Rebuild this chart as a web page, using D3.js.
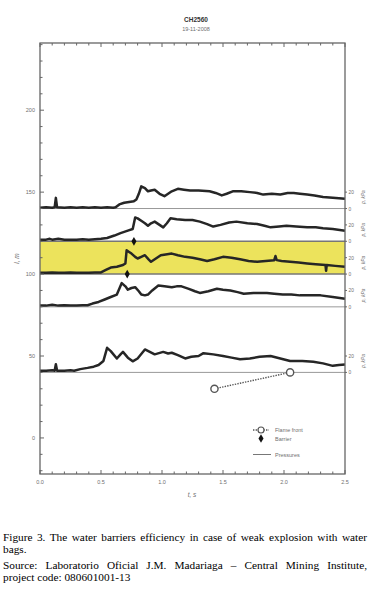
<!DOCTYPE html>
<html>
<head>
<meta charset="utf-8">
<script src="https://cdn.jsdelivr.net/npm/d3@7"></script>
<style>
  body { margin: 0; background: #fff; }
  svg { display: block; }
</style>
</head>
<body>
<div id="chart"></div>
<script>
// pressure traces: [t (s), p (kPa)], drawn on top of their baseline (l, m)
const baselines = [140, 120, 100, 80, 40];
const trace140 = [[0,1],[0.05,1.5],[0.1,1],[0.12,1.5],[0.13,13],[0.14,1.5],[0.2,1],[0.25,1.5],[0.3,1],[0.35,1.5],[0.4,1],[0.45,1.5],[0.5,1],[0.55,1.5],[0.6,1],[0.62,1.5],[0.65,5],[0.69,7],[0.73,8],[0.77,9],[0.79,11],[0.81,18],[0.83,27],[0.86,25],[0.885,21],[0.91,22],[0.94,23],[0.98,18],[1.02,15],[1.05,18],[1.08,21],[1.13,24],[1.18,23],[1.23,22],[1.3,22],[1.39,21],[1.44,19],[1.49,16],[1.53,18],[1.58,21],[1.65,21],[1.72,20],[1.78,19],[1.83,17],[1.9,18],[1.97,17],[2.03,19],[2.08,19],[2.13,18],[2.19,17],[2.25,16],[2.32,14],[2.4,13],[2.5,12]];
const trace120 = [[0,2],[0.05,2],[0.08,3],[0.1,2],[0.15,3],[0.2,2],[0.25,2],[0.3,2],[0.35,2.5],[0.4,2],[0.45,2.5],[0.5,3],[0.55,4],[0.61,7],[0.66,10],[0.72,13],[0.76,15],[0.78,29],[0.8,28],[0.83,25],[0.86,22],[0.885,19],[0.91,22],[0.94,24],[0.98,20],[1.01,17],[1.04,22],[1.07,28],[1.12,27],[1.19,26],[1.25,26],[1.31,24],[1.37,21],[1.42,18],[1.48,20],[1.55,23],[1.61,24],[1.7,22],[1.78,21],[1.84,19],[1.89,17],[1.96,18],[2.02,19],[2.1,18],[2.19,17],[2.26,17],[2.32,16],[2.4,15],[2.5,13]];
const trace100 = [[0,1.5],[0.05,1.5],[0.1,2],[0.15,1.5],[0.2,1.5],[0.25,2],[0.3,1.5],[0.35,1.5],[0.4,1.5],[0.45,2],[0.5,2],[0.54,5],[0.58,8],[0.63,9],[0.68,11],[0.7,13],[0.71,29],[0.73,27],[0.75,25],[0.78,21],[0.8,19],[0.83,21],[0.86,23],[0.89,18],[0.91,15],[0.95,19],[0.99,23],[1.03,24],[1.08,25],[1.13,23],[1.19,21],[1.25,20],[1.31,18],[1.37,16],[1.43,18],[1.5,21],[1.57,20],[1.64,18],[1.71,16],[1.78,15],[1.85,16],[1.92,17],[1.93,22],[1.94,17],[1.98,16],[2.05,15],[2.12,14],[2.19,13],[2.26,12],[2.34,11],[2.345,4],[2.35,11],[2.42,10],[2.5,9]];
const trace80 = [[0,1.5],[0.05,1.5],[0.1,2.5],[0.15,1.5],[0.2,2],[0.25,1.5],[0.3,1.5],[0.35,2],[0.39,2],[0.43,4],[0.48,6],[0.53,9],[0.58,12],[0.63,15],[0.65,22],[0.67,29],[0.7,25],[0.72,21],[0.75,23],[0.78,24],[0.81,19],[0.83,15],[0.86,14],[0.885,15],[0.92,20],[0.97,26],[1.02,25],[1.08,24],[1.12,25],[1.16,25],[1.22,22],[1.27,19],[1.31,17],[1.38,19],[1.45,22],[1.5,21],[1.56,20],[1.62,18],[1.67,16],[1.75,17],[1.86,17],[1.92,16],[1.99,15],[2.06,15],[2.13,14],[2.2,14],[2.3,14],[2.4,12],[2.5,10]];
const trace40 = [[0,2],[0.05,2],[0.1,2.5],[0.12,2],[0.13,10],[0.14,2],[0.2,2],[0.25,2.5],[0.28,2],[0.33,4],[0.39,5.5],[0.44,7],[0.48,9],[0.52,14],[0.55,30],[0.58,26],[0.63,17],[0.66,22],[0.68,25],[0.72,18],[0.76,13.5],[0.8,17],[0.86,28],[0.9,25],[0.94,22],[1.01,25],[1.05,23],[1.08,24],[1.13,21],[1.19,17],[1.24,19],[1.3,20],[1.34,23.5],[1.42,22],[1.5,20],[1.57,18],[1.64,16],[1.72,17],[1.8,19],[1.89,20],[1.97,17],[2.05,14],[2.15,14],[2.24,13],[2.32,11],[2.4,8],[2.45,9],[2.5,9.5]];
const traces = [trace140, trace120, trace100, trace80, trace40];

const flameT = [1.43, 2.05];
const flameL = [30, 40];
const barrierT = [0.77, 0.715];
const barrierL = [120, 100];
const band = [100, 120];

const xTicks = [0, 0.5, 1.0, 1.5, 2.0, 2.5];
const yTicks = [0, 50, 100, 150, 200];
const kPaPerMetre = 2; // 20 kPa spans 10 m on the plot

const width = 381, height = 590;
const margin = { left: 40, right: 36, top: 43, bottom: 116 };
const axisGrey = "#666", textGrey = "#6f6f6f";

const svg = d3.select("#chart").append("svg")
  .attr("width", width)
  .attr("height", height)
  .style("font-family", "'Liberation Sans', Arial, sans-serif");

const x = d3.scaleLinear().domain([0, 2.5]).range([margin.left, width - margin.right]);
const y = d3.scaleLinear().domain([-22, 241]).range([height - margin.bottom, margin.top]);

// title
svg.append("text").attr("x", 196).attr("y", 22).attr("text-anchor", "middle")
  .attr("font-size", 6.5).attr("font-weight", "bold").attr("fill", "#333").text("CH2560");
svg.append("text").attr("x", 196).attr("y", 31).attr("text-anchor", "middle")
  .attr("font-size", 5.5).attr("fill", textGrey).text("19-11-2008");

// yellow band between the two barrier gauges
svg.append("rect")
  .attr("x", x(0)).attr("y", y(band[1]))
  .attr("width", x(2.5) - x(0)).attr("height", y(band[0]) - y(band[1]))
  .attr("fill", "#ece35c");

// baselines of the pressure gauges
svg.selectAll(".baseline").data(baselines).join("line")
  .attr("class", "baseline")
  .attr("x1", x(0)).attr("x2", x(2.5))
  .attr("y1", d => y(d)).attr("y2", d => y(d))
  .attr("stroke", d => band.includes(d) ? "#777" : "#999")
  .attr("stroke-width", d => band.includes(d) ? 1.4 : 1);

// pressure traces
const line = base => d3.line()
  .x(d => x(d[0]))
  .y(d => y(base + d[1] / kPaPerMetre));

traces.forEach((trace, i) => {
  svg.append("path")
    .datum(trace)
    .attr("d", line(baselines[i]))
    .attr("fill", "none")
    .attr("stroke", "#262626")
    .attr("stroke-width", 2.5)
    .attr("stroke-linejoin", "round");
});

// frame
svg.append("rect")
  .attr("x", x(0)).attr("y", y(241))
  .attr("width", x(2.5) - x(0)).attr("height", y(-22) - y(241))
  .attr("fill", "none").attr("stroke", axisGrey).attr("stroke-width", 1.3);

// inward ticks on all sides of the frame
const xAll = d3.range(0, 26).map(i => i / 10);
const yAll = d3.range(-20, 241, 10);
const tickLen = (v, major) => (Math.abs(v % major) < 1e-6 || Math.abs(v % major - major) < 1e-6) ? 4 : 2.5;

svg.append("g").selectAll("line").data(xAll).join("line")
  .attr("x1", d => x(d)).attr("x2", d => x(d))
  .attr("y1", y(-22)).attr("y2", d => y(-22) - tickLen(d, 0.5))
  .attr("stroke", axisGrey);
svg.append("g").selectAll("line").data(xAll).join("line")
  .attr("x1", d => x(d)).attr("x2", d => x(d))
  .attr("y1", y(241)).attr("y2", d => y(241) + tickLen(d, 0.5))
  .attr("stroke", axisGrey);
svg.append("g").selectAll("line").data(yAll).join("line")
  .attr("x1", x(0)).attr("x2", d => x(0) + tickLen(d, 50))
  .attr("y1", d => y(d)).attr("y2", d => y(d))
  .attr("stroke", axisGrey);

// tick labels
svg.append("g").selectAll("text").data(xTicks).join("text")
  .attr("x", d => x(d)).attr("y", y(-22) + 10)
  .attr("text-anchor", "middle").attr("font-size", 5.5).attr("fill", textGrey)
  .text(d => d.toFixed(1));
svg.append("g").selectAll("text").data(yTicks).join("text")
  .attr("x", x(0) - 5).attr("y", d => y(d) + 2)
  .attr("text-anchor", "end").attr("font-size", 5.5).attr("fill", textGrey)
  .text(d => d);

// axis titles
svg.append("text").attr("x", 192).attr("y", 497).attr("text-anchor", "middle")
  .attr("font-size", 6.5).attr("font-style", "italic").attr("fill", textGrey).text("t, s");
svg.append("text").attr("transform", `translate(19,${(y(241) + y(-22)) / 2}) rotate(-90)`)
  .attr("text-anchor", "middle").attr("font-size", 6.5).attr("font-style", "italic")
  .attr("fill", textGrey).text("l, m");

// right-hand pressure scales
const right = x(2.5);
baselines.forEach(base => {
  const g = svg.append("g");
  [[0, "0"], [20, "20"]].forEach(([p, label]) => {
    g.append("line")
      .attr("x1", right).attr("x2", right + 2)
      .attr("y1", y(base + p / kPaPerMetre)).attr("y2", y(base + p / kPaPerMetre))
      .attr("stroke", axisGrey);
    g.append("text")
      .attr("x", right + 3.5).attr("y", y(base + p / kPaPerMetre) + 2)
      .attr("font-size", 4.8).attr("fill", textGrey).text(label);
  });
  g.append("text")
    .attr("transform", `translate(${right + 20},${y(base + 7)}) rotate(-90)`)
    .attr("text-anchor", "middle").attr("font-size", 4.8).attr("font-style", "italic")
    .attr("fill", textGrey).text("p, kPa");
});

// flame front
const flame = flameT.map((t, i) => [t, flameL[i]]);
svg.append("path")
  .datum(flame)
  .attr("d", d3.line().x(d => x(d[0])).y(d => y(d[1])))
  .attr("fill", "none").attr("stroke", "#555").attr("stroke-width", 1.4)
  .attr("stroke-dasharray", "1.4,1.2");
svg.selectAll(".flame").data(flame).join("circle")
  .attr("class", "flame")
  .attr("cx", d => x(d[0])).attr("cy", d => y(d[1])).attr("r", 3.6)
  .attr("fill", "#fff").attr("stroke", "#555").attr("stroke-width", 1.4);

// barriers
const diamond = d3.symbol().type(d3.symbolDiamond).size(22);
svg.selectAll(".barrier").data(barrierT.map((t, i) => [t, barrierL[i]])).join("path")
  .attr("class", "barrier")
  .attr("transform", d => `translate(${x(d[0])},${y(d[1])})`)
  .attr("d", diamond).attr("fill", "#111");

// legend
const legend = svg.append("g").attr("font-size", 5.5).attr("fill", textGrey);
legend.append("line").attr("x1", 253).attr("x2", 269).attr("y1", 430).attr("y2", 430)
  .attr("stroke", "#555").attr("stroke-width", 1.3).attr("stroke-dasharray", "1.4,1.2");
legend.append("circle").attr("cx", 261).attr("cy", 430).attr("r", 3)
  .attr("fill", "#fff").attr("stroke", "#555").attr("stroke-width", 1.2);
legend.append("text").attr("x", 275).attr("y", 432).text("Flame front");
legend.append("path").attr("transform", "translate(261,438.5)").attr("d", diamond).attr("fill", "#111");
legend.append("text").attr("x", 275).attr("y", 440.5).text("Barrier");
legend.append("line").attr("x1", 253).attr("x2", 271).attr("y1", 454.5).attr("y2", 454.5)
  .attr("stroke", "#777").attr("stroke-width", 1);
legend.append("text").attr("x", 275).attr("y", 456.5).text("Pressures");

// caption below the figure
const caption = [
  { text: "Figure 3. The water barriers efficiency in case of weak explosion with water", y: 540.5, justify: true },
  { text: "bags.", y: 552.5, justify: false },
  { text: "Source: Laboratorio Oficial J.M. Madariaga \u2013 Central Mining Institute,", y: 568.5, justify: true },
  { text: "project code: 080601001-13", y: 580.5, justify: false }
];
const capLeft = 3, capRight = 367;
caption.forEach(c => {
  const t = svg.append("text")
    .attr("x", capLeft).attr("y", c.y)
    .attr("font-family", "'Liberation Serif', 'Times New Roman', serif")
    .attr("font-size", 11.3).attr("fill", "#000")
    .text(c.text);
  if (c.justify) {
    const spaces = c.text.split(" ").length - 1;
    const extra = (capRight - capLeft - t.node().getComputedTextLength()) / spaces;
    t.attr("word-spacing", extra);
  }
});
</script>
</body>
</html>
